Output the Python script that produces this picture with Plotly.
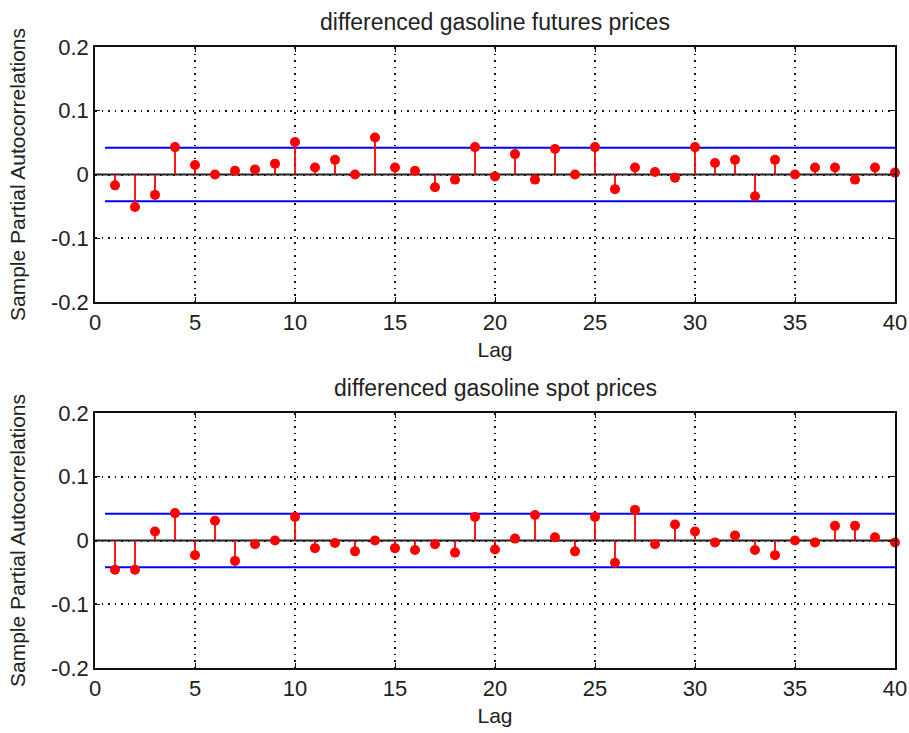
import plotly.graph_objects as go
from plotly.subplots import make_subplots

lags = list(range(1, 41))
futures_pacf = [-0.017, -0.051, -0.032, 0.043, 0.015, 0.000, 0.006, 0.008, 0.017, 0.051,
                0.011, 0.023, 0.000, 0.058, 0.011, 0.006, -0.020, -0.008, 0.043, -0.003,
                0.032, -0.008, 0.040, 0.000, 0.043, -0.023, 0.011, 0.004, -0.005, 0.043,
                0.018, 0.023, -0.034, 0.023, 0.000, 0.011, 0.011, -0.008, 0.011, 0.003]
spot_pacf = [-0.046, -0.046, 0.014, 0.043, -0.023, 0.031, -0.032, -0.006, 0.000, 0.037,
             -0.012, -0.004, -0.017, 0.000, -0.012, -0.015, -0.006, -0.019, 0.037, -0.014,
             0.003, 0.040, 0.005, -0.017, 0.037, -0.035, 0.048, -0.006, 0.025, 0.014,
             -0.003, 0.008, -0.015, -0.023, 0.000, -0.003, 0.023, 0.023, 0.005, -0.003]
conf_bound = 0.042
titles = ["differenced gasoline futures prices", "differenced gasoline spot prices"]
x_ticks = [0, 5, 10, 15, 20, 25, 30, 35, 40]
y_ticks = [-0.2, -0.1, 0, 0.1, 0.2]
y_tick_labels = ["-0.2", "-0.1", "0", "0.1", "0.2"]

FONT = "Liberation Sans, Arial, sans-serif"
TXT = "#222"

fig = make_subplots(rows=2, cols=1)

for row, vals in ((1, futures_pacf), (2, spot_pacf)):
    sx, sy = [], []
    for l, v in zip(lags, vals):
        sx += [l, l, None]
        sy += [0, v, None]
    fig.add_trace(go.Scatter(x=[0, 40], y=[0, 0], mode="lines",
                             line=dict(color="#222", width=2), showlegend=False,
                             hoverinfo="skip"), row=row, col=1)
    fig.add_trace(go.Scatter(x=[0.5, 40], y=[conf_bound, conf_bound], mode="lines",
                             line=dict(color="#0000ff", width=2), showlegend=False),
                  row=row, col=1)
    fig.add_trace(go.Scatter(x=[0.5, 40], y=[-conf_bound, -conf_bound], mode="lines",
                             line=dict(color="#0000ff", width=2), showlegend=False),
                  row=row, col=1)
    fig.add_trace(go.Scatter(x=sx, y=sy, mode="lines",
                             line=dict(color="#ff0000", width=1.8), showlegend=False),
                  row=row, col=1)
    fig.add_trace(go.Scatter(x=lags, y=vals, mode="markers",
                             marker=dict(color="#ff0000", size=10), showlegend=False,
                             cliponaxis=False),
                  row=row, col=1)

axis_common = dict(showline=True, linecolor="#111", linewidth=1.5, mirror="ticks",
                   ticks="inside", ticklen=5, tickcolor="#111",
                   showgrid=True, gridcolor="#111", griddash="1.5px,5px", gridwidth=1.5,
                   zeroline=False, automargin=False,
                   tickfont=dict(family=FONT, size=22, color=TXT))

for row in (1, 2):
    fig.update_xaxes(range=[0, 40], tickvals=x_ticks, title_text="Lag",
                     title_font=dict(family=FONT, size=21, color=TXT),
                     title_standoff=8, row=row, col=1, **axis_common)
    fig.update_yaxes(range=[-0.2, 0.2], tickvals=y_ticks, ticktext=y_tick_labels,
                     title_text="Sample Partial Autocorrelations",
                     title_font=dict(family=FONT, size=21, color=TXT),
                     title_standoff=20, row=row, col=1, **axis_common)

fig.update_layout(
    width=909, height=733,
    margin=dict(l=95, r=14, t=47, b=65),
    plot_bgcolor="white", paper_bgcolor="white",
    font=dict(family=FONT, size=21, color=TXT),
)
fig.update_layout(
    yaxis=dict(domain=[(668 - 302) / 621, 1.0]),
    yaxis2=dict(domain=[0.0, (668 - 413) / 621]),
)

for i, t in enumerate(titles):
    ytop = 1.0 if i == 0 else (668 - 413) / 621
    fig.add_annotation(text=t, xref="paper", yref="paper", x=0.5, y=ytop, yshift=10,
                       xanchor="center", yanchor="bottom", showarrow=False,
                       font=dict(family=FONT, size=23, color=TXT))

fig.write_html("out.html")
